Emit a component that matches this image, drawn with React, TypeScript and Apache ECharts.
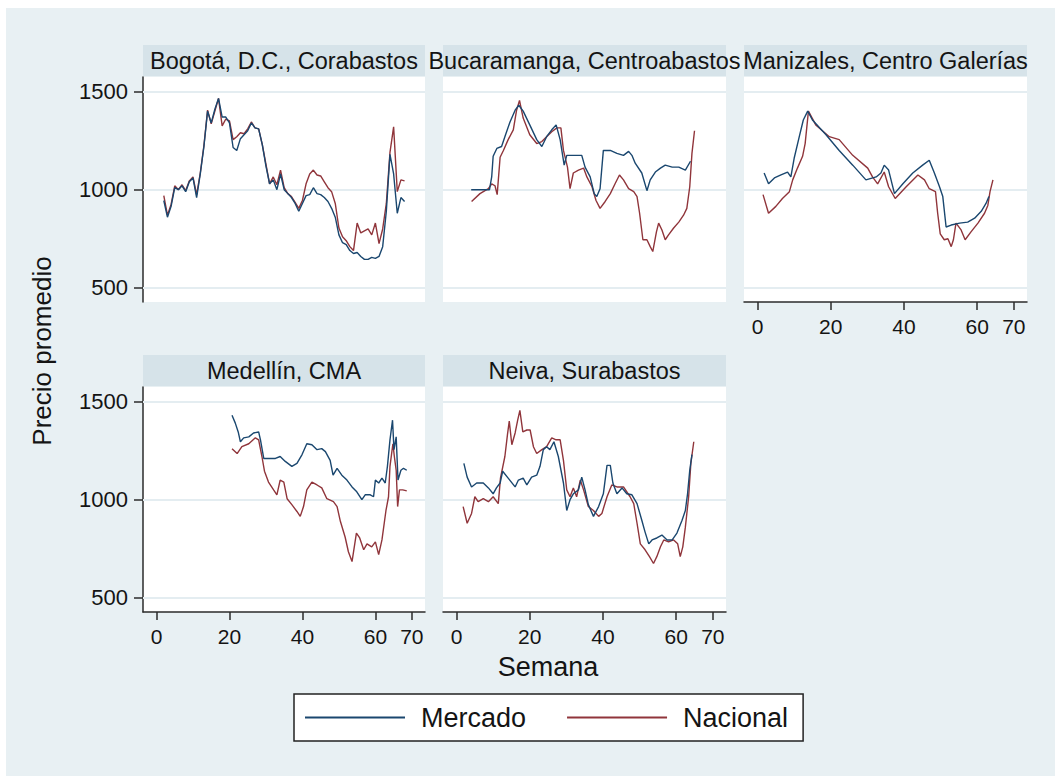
import React, { useEffect, useRef } from "react";
import * as echarts from "echarts";

// ---------------- DATA ----------------
const seriesNames = ["Mercado", "Nacional"];
const panelTitles = [
  "Bogotá, D.C., Corabastos",
  "Bucaramanga, Centroabastos",
  "Manizales, Centro Galerías",
  "Medellín, CMA",
  "Neiva, Surabastos",
];
const xTicks = [0, 20, 40, 60, 70];
const yTicks = [500, 1000, 1500];

// Bogotá
const bogotaWeeks = [2, 3, 4, 5, 6, 7, 8, 9, 10, 11, 12, 13, 14, 15, 16, 17, 18, 19, 20, 21, 22, 23, 24, 25, 26, 27, 28, 29, 30, 31, 32, 33, 34, 35, 36, 37, 38, 39, 40, 41, 42, 43, 44, 45, 46, 47, 48, 49, 50, 51, 52, 53, 54, 55, 56, 57, 58, 59, 60, 61, 62, 63, 64, 65, 66, 67, 68];
const bogotaMercado = [945, 860, 915, 1010, 1000, 1020, 990, 1040, 1060, 960, 1080, 1220, 1400, 1340, 1410, 1465, 1370, 1370, 1340, 1215, 1200, 1260, 1280, 1300, 1340, 1315, 1310, 1230, 1120, 1030, 1050, 1000, 1080, 1000, 980, 960, 930, 890, 930, 970, 975, 1010, 980, 975, 960, 940, 905, 860, 770, 730, 720, 690, 675, 680, 660, 645, 645, 655, 650, 660, 710, 890, 1180, 1080, 880, 960, 940];
const bogotaNacional = [970, 870, 925, 1020, 1000, 1025, 995, 1045, 1065, 975, 1085, 1225, 1405, 1335, 1400, 1465, 1325, 1360, 1350, 1255, 1270, 1290, 1285, 1310, 1345, 1315, 1310, 1230, 1130, 1030, 1065, 1025, 1100, 1010, 980, 965, 935, 905, 945, 1030, 1080, 1100, 1075, 1070, 1040, 1010, 990, 930, 805, 760, 740, 710, 690, 830, 780, 790, 800, 770, 830, 725, 800, 930, 1190, 1320, 990, 1050, 1045];

// Bucaramanga
const bucaMercadoWeeks = [4, 5, 6, 7, 8, 9, 9.6, 10, 11, 12.3, 13.2, 14.6, 16, 17, 18.2, 20, 21.9, 23.3, 24.6, 26, 27.2, 28.3, 29.4, 30.1, 32, 34.2, 35.1, 36.5, 37.6, 38.3, 39.2, 40.1, 42, 43.8, 45.6, 47, 47.9, 48.8, 50.6, 52, 52.9, 54.3, 55.7, 57, 58.9, 60.7, 62.5, 63.9];
const bucaMercado = [1000, 1000, 1000, 1000, 1000, 1000, 1065, 1170, 1210, 1220, 1270, 1345, 1405, 1430, 1400, 1330, 1255, 1220, 1270, 1305, 1330, 1255, 1125, 1175, 1175, 1175, 1115, 1065, 980, 965, 1005, 1200, 1200, 1185, 1175, 1195, 1175, 1135, 1085, 995, 1050, 1090, 1110, 1125, 1115, 1115, 1100, 1145];
const bucaNacionalWeeks = [4.1, 6.4, 8.7, 9.6, 10.5, 11.1, 11.9, 12.8, 14.1, 15.5, 16.4, 17.2, 18.2, 20, 21.9, 23.3, 24.6, 26, 27.4, 28.5, 29.2, 30.3, 31, 31.9, 33.3, 34.7, 35.6, 37, 38.1, 39.2, 40.6, 42, 43.3, 44.5, 45.6, 47, 48.4, 49.3, 50, 50.9, 52, 52.9, 53.6, 54.6, 55.2, 56.1, 57, 57.9, 59.3, 60.7, 62, 62.9, 63.7, 64.3, 65];
const bucaNacional = [940, 980, 1005, 1030, 1020, 975, 1165, 1200, 1255, 1305, 1405, 1455, 1365, 1280, 1235, 1245, 1270, 1295, 1315, 1315, 1200, 1115, 1005, 1085, 1100, 1110, 1065, 1015, 945, 905, 940, 980, 1030, 1075, 1050, 1005, 990, 965, 880, 745, 745, 710, 685, 785, 830, 795, 745, 770, 805, 835, 870, 905, 1015, 1185, 1300];

// Manizales
const maniMercadoWeeks = [1.8, 3, 4.6, 6.4, 8.2, 9.1, 10, 11.4, 12.5, 13.7, 15, 18.7, 22.3, 26, 29.6, 32.4, 33.7, 34.6, 35.8, 37.4, 39.7, 42.4, 45.1, 46.9, 48.3, 49.7, 50.6, 51.5, 52.9, 55.2, 57.4, 59.3, 61.1, 62.4, 63.2];
const maniMercado = [1085, 1030, 1060, 1075, 1090, 1065, 1160, 1270, 1355, 1400, 1355, 1280, 1200, 1125, 1050, 1065, 1085, 1125, 1100, 980, 1030, 1085, 1125, 1150, 1085, 1015, 965, 810, 820, 830, 835, 855, 890, 930, 965];
const maniNacionalWeeks = [1.5, 3, 5, 6.8, 8.7, 9.6, 10.9, 12.3, 13, 13.9, 15.9, 19.6, 22.3, 26, 30.1, 31.4, 32.8, 34.6, 35.8, 37.6, 40.6, 43.8, 45.6, 46.9, 48.6, 49.2, 49.9, 51, 52, 52.9, 53.5, 54.2, 55.6, 56.7, 58.3, 60.2, 62, 62.9, 63.5, 64.3];
const maniNacional = [975, 880, 915, 955, 990, 1050, 1110, 1170, 1235, 1400, 1330, 1270, 1255, 1175, 1110, 1065, 1030, 1090, 1015, 955, 1015, 1075, 1050, 1005, 990, 880, 775, 745, 750, 710, 745, 830, 795, 745, 785, 830, 880, 920, 990, 1050];

// Medellín
const medeMercadoWeeks = [20.7, 21.6, 22.4, 23, 23.9, 25.3, 26.6, 28, 28.5, 29.4, 30.7, 32.6, 33.9, 35.3, 37.1, 38.5, 39.9, 41.2, 42.6, 44, 45.3, 46.3, 47.6, 48.4, 49.5, 50.8, 52.2, 53.6, 54.9, 56.3, 57.2, 58.6, 59.5, 60, 60.9, 61.8, 62.7, 63.3, 64, 64.7, 65.1, 65.7, 66.2, 67, 67.7, 68.6];
const medeMercado = [1430, 1390, 1345, 1295, 1315, 1320, 1340, 1345, 1305, 1210, 1210, 1210, 1220, 1195, 1170, 1185, 1230, 1285, 1280, 1255, 1260, 1245, 1200, 1125, 1160, 1125, 1100, 1065, 1040, 1000, 1025, 1025, 1015, 1100, 1085, 1110, 1085, 1170, 1305, 1405, 1255, 1320, 1100, 1150, 1160, 1150];
const medeNacionalWeeks = [20.7, 22.1, 23.4, 25.3, 27.1, 28, 28.9, 29.6, 30.7, 32.1, 33, 33.9, 34.9, 35.8, 37.1, 38.5, 39.4, 40.3, 41.2, 42.6, 44, 45.3, 46.7, 48.5, 49.5, 50.4, 51.7, 52.6, 53.6, 54.8, 55.7, 56.8, 57.7, 59, 60, 60.9, 61.8, 62.9, 63.6, 64, 64.8, 65.2, 65.7, 66.1, 66.6, 67.5, 68.6];
const medeNacional = [1260, 1235, 1270, 1285, 1315, 1305, 1220, 1145, 1090, 1050, 1025, 1100, 1090, 1005, 975, 940, 915, 965, 1050, 1090, 1075, 1060, 1005, 990, 965, 890, 810, 735, 685, 830, 805, 745, 775, 760, 785, 720, 795, 945, 1015, 1170, 1285, 1220, 1150, 965, 1050, 1050, 1045];

// Neiva
const neivaMercadoWeeks = [2, 2.9, 4.1, 5.5, 7.3, 8.7, 10, 10.9, 11.9, 12.6, 14.1, 16, 16.9, 18.2, 19.2, 20.5, 21.9, 22.8, 23.7, 24.6, 25.5, 26.6, 27.8, 29.2, 30.1, 31, 31.9, 33.3, 34.2, 35.1, 36, 37.4, 38.8, 40.1, 41.1, 42, 42.7, 43.8, 45.2, 46.5, 47.9, 49.3, 50.6, 51.5, 52.5, 53.4, 54.7, 56.1, 57.5, 58.9, 60.2, 61.6, 62.5, 63.1, 63.7, 64.3];
const neivaMercado = [1185, 1115, 1065, 1085, 1085, 1060, 1030, 1060, 1085, 1145, 1110, 1065, 1100, 1110, 1075, 1115, 1125, 1170, 1255, 1270, 1255, 1295, 1220, 1085, 945, 1000, 1030, 1050, 1115, 1050, 975, 915, 965, 1030, 1175, 1175, 1085, 1030, 1060, 1030, 1025, 980, 895, 835, 775, 795, 805, 820, 795, 795, 830, 895, 945, 1030, 1150, 1230];
const neivaNacionalWeeks = [1.8, 2.9, 4.1, 5, 5.9, 7.3, 8.7, 10, 11.4, 12, 13.2, 13.9, 14.4, 15.1, 16, 16.7, 17.3, 18.1, 19.2, 20.1, 21, 21.9, 23.3, 24.6, 26, 27.2, 28.3, 29.2, 30.1, 31, 31.9, 32.8, 33.8, 34.7, 36, 37.4, 38.8, 39.7, 41.1, 42.4, 43.8, 45.6, 47.4, 48.4, 49.3, 50.2, 51.5, 52.7, 53.8, 54.7, 55.7, 56.6, 57.9, 59.3, 60.4, 61.1, 61.8, 62.5, 63.4, 64, 64.8];
const neivaNacional = [965, 880, 930, 1015, 990, 1005, 990, 1015, 980, 1110, 1220, 1330, 1400, 1280, 1340, 1405, 1455, 1345, 1355, 1355, 1270, 1235, 1255, 1270, 1315, 1305, 1305, 1200, 1050, 1015, 1060, 1015, 1100, 1050, 965, 945, 915, 930, 1015, 1075, 1065, 1065, 1015, 980, 880, 775, 745, 710, 675, 710, 760, 795, 785, 795, 775, 710, 760, 860, 1015, 1185, 1295];

const panelData = [
  { mW: bogotaWeeks, m: bogotaMercado, nW: bogotaWeeks, n: bogotaNacional },
  { mW: bucaMercadoWeeks, m: bucaMercado, nW: bucaNacionalWeeks, n: bucaNacional },
  { mW: maniMercadoWeeks, m: maniMercado, nW: maniNacionalWeeks, n: maniNacional },
  { mW: medeMercadoWeeks, m: medeMercado, nW: medeNacionalWeeks, n: medeNacional },
  { mW: neivaMercadoWeeks, m: neivaMercado, nW: neivaNacionalWeeks, n: neivaNacional },
];

// ---------------- STYLE / LAYOUT ----------------
const W = 1049;
const H = 768;
const BG = "#E8F0F3";
const STRIP = "#D6E3E9";
const GRIDLINE = "#E4EDF1";
const AXIS = "#2b2b2b";
const TEXT = "#141414";
const FONT = "'Liberation Sans', Arial, sans-serif";
const COLORS = ["#1A476F", "#90353B"];

const layout = [
  { left: 137, top: 69, width: 282, height: 225, showY: true, showX: false },
  { left: 437, top: 69, width: 283, height: 225, showY: false, showX: false },
  { left: 738, top: 69, width: 283, height: 225, showY: false, showX: true },
  { left: 137, top: 379, width: 282, height: 225, showY: true, showX: true },
  { left: 437, top: 379, width: 283, height: 225, showY: false, showX: true },
];
const STRIP_H = 31;

function buildOption() {
  const grid = layout.map((g) => ({
    left: g.left,
    top: g.top,
    width: g.width,
    height: g.height,
    show: true,
    backgroundColor: "#ffffff",
    borderWidth: 0,
  }));

  const xAxis = layout.map((g, i) => ({
    type: "value",
    gridIndex: i,
    min: -3.7,
    max: 73.6,
    show: g.showX,
    axisLine: { show: true, onZero: false, lineStyle: { color: AXIS, width: 1.5 } },
    axisTick: { show: true, length: 8, customValues: xTicks, lineStyle: { color: AXIS, width: 1.5 } },
    axisLabel: {
      customValues: xTicks,
      fontSize: 21,
      margin: 14,
      color: TEXT,
      fontFamily: FONT,
      formatter: (v: number) => String(v),
    },
    splitLine: { show: false },
  }));

  const yAxis = layout.map((g, i) => ({
    type: "value",
    gridIndex: i,
    min: 428,
    max: 1574,
    show: g.showY,
    axisLine: { show: true, onZero: false, lineStyle: { color: AXIS, width: 1.5 } },
    axisTick: { show: true, length: 9, customValues: yTicks, lineStyle: { color: AXIS, width: 1.5 } },
    axisLabel: {
      customValues: yTicks,
      fontSize: 22,
      margin: 15,
      color: TEXT,
      fontFamily: FONT,
      formatter: (v: number) => String(v),
    },
    splitLine: { show: false },
  }));

  const series: any[] = [];
  panelData.forEach((p, i) => {
    series.push({
      name: seriesNames[0],
      type: "line",
      xAxisIndex: i,
      yAxisIndex: i,
      data: p.mW.map((w, k) => [w, p.m[k]]),
      showSymbol: false,
      symbol: "none",
      lineStyle: { color: COLORS[0], width: 1.4 },
      itemStyle: { color: COLORS[0] },
      z: 3,
      markLine: {
        silent: true,
        symbol: ["none", "none"],
        z: 1,
        label: { show: false },
        lineStyle: { color: GRIDLINE, width: 2, type: "solid" },
        emphasis: { disabled: true },
        data: yTicks.map((v) => ({ yAxis: v })),
      },
    });
    series.push({
      name: seriesNames[1],
      type: "line",
      xAxisIndex: i,
      yAxisIndex: i,
      data: p.nW.map((w, k) => [w, p.n[k]]),
      showSymbol: false,
      symbol: "none",
      lineStyle: { color: COLORS[1], width: 1.4 },
      itemStyle: { color: COLORS[1] },
      z: 2,
    });
  });

  const stripRects = layout.map((g) => ({
    type: "rect",
    shape: { x: g.left, y: g.top - STRIP_H - 1, width: g.width, height: STRIP_H },
    style: { fill: STRIP },
    silent: true,
    z: 0,
  }));
  const stripTexts = layout.map((g, i) => ({
    type: "text",
    x: g.left + g.width / 2,
    y: g.top - 1 - STRIP_H / 2,
    style: {
      text: panelTitles[i],
      fontSize: 23.5,
      fontFamily: FONT,
      fill: TEXT,
      align: "center",
      verticalAlign: "middle",
    },
    silent: true,
    z: 1,
  }));

  const graphic = [
    ...stripRects,
    ...stripTexts,
    {
      type: "text",
      x: 36,
      y: 343,
      rotation: Math.PI / 2,
      style: {
        text: "Precio promedio",
        fontSize: 26,
        fontFamily: FONT,
        fill: TEXT,
        align: "center",
        verticalAlign: "middle",
      },
      silent: true,
    },
    {
      type: "text",
      x: 542,
      y: 659,
      style: {
        text: "Semana",
        fontSize: 27,
        fontFamily: FONT,
        fill: TEXT,
        align: "center",
        verticalAlign: "middle",
      },
      silent: true,
    },
  ];

  return {
    animation: false,
    backgroundColor: BG,
    grid,
    xAxis,
    yAxis,
    series,
    graphic,
    legend: {
      data: seriesNames,
      left: 288,
      top: 686,
      orient: "horizontal",
      backgroundColor: "#ffffff",
      borderColor: "#222222",
      borderWidth: 1.5,
      borderRadius: 0,
      padding: [10, 15, 10, 11],
      icon: "rect",
      itemWidth: 100,
      itemHeight: 2,
      itemGap: 41,
      selectedMode: false,
      textStyle: { fontSize: 27, color: TEXT, fontFamily: FONT, padding: [0, 0, 0, 11] },
    },
  };
}

export default function App() {
  const ref = useRef<HTMLDivElement>(null);
  useEffect(() => {
    document.body.style.margin = "8px 0 0 6px";
    document.body.style.overflow = "hidden";
    const chart = echarts.init(ref.current as HTMLDivElement, null, { renderer: "svg" });
    chart.setOption(buildOption() as any);
    return () => chart.dispose();
  }, []);
  return <div ref={ref} style={{ width: W, height: H }} />;
}
